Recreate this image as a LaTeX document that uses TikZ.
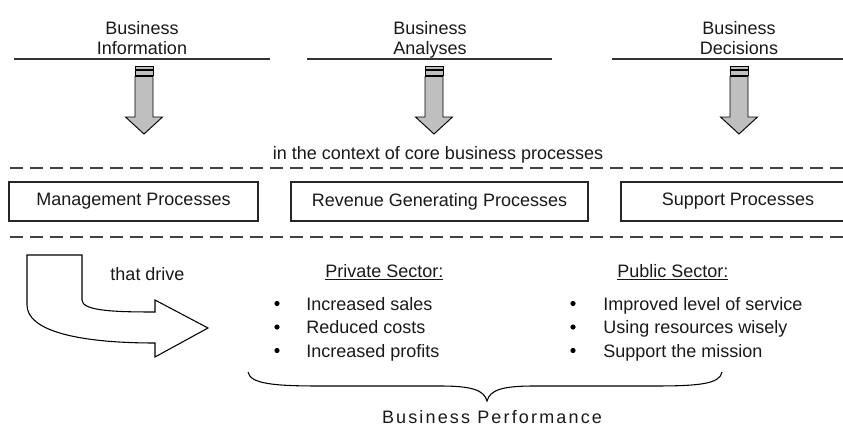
\documentclass[tikz,border=0pt]{standalone}
\usepackage{fontspec}
\setmainfont{Liberation Sans}
\begin{document}
\begin{tikzpicture}[x=0.75pt,y=-0.75pt,
  every node/.style={font=\fontsize{13.5}{15.75}\selectfont, inner sep=0pt, text=black!90},
  toplabel/.style={align=center, anchor=base},
  rule/.style={line width=1.5pt, draw=black!80},
  sepline/.style={line width=1.2pt, draw=black!75, dash pattern=on 9.5pt off 5.5pt},
  procbox/.style={draw=black!85, line width=1.1pt, minimum height=29.25pt},
  item/.style={anchor=base west},
  dot/.style={circle, fill=black, minimum size=3.9pt},
  fatarrow/.pic={
    \draw[line width=0.7pt, fill=black!25] (-9,0) rectangle (9,2.5);
    \draw[line width=0.7pt, fill=black!25] (-9,4) rectangle (9,8.5);
    \draw[line width=0.7pt, fill=black!25, line join=miter]
      (-9,10) -- (-9,50.5) -- (-18.5,50.5) -- (0,67.5) -- (18.5,50.5) -- (9,50.5) -- (9,10) -- cycle;
  }]
\useasboundingbox (0,0) rectangle (843,432);

% three information streams (base = baseline of the second line)
\node[toplabel] (info) at (142,55) {Business\\Information};
\node[toplabel] (anal) at (430,55) {Business\\Analyses};
\node[toplabel] (deci) at (739,55) {Business\\Decisions};
\draw[rule] (14,59) -- (270,59);
\draw[rule] (307,59) -- (552,59);
\draw[rule] (612,59) -- (843,59);
\pic at (144,66.5) {fatarrow};
\pic at (434,66.5) {fatarrow};
\pic at (739,66.5) {fatarrow};

\node[anchor=base] (ctx) at (438,159) {in the context of core business processes};

% band of core processes
\draw[sepline] (10,168) -- (843,168);
\node[procbox, minimum width=186.75pt] (mgmt) at (133.5,201.5) {Management Processes};
\node[procbox, minimum width=222.75pt] (rev) at (439.5,201.5) {Revenue Generating Processes};
\node[procbox, minimum width=175.5pt] (sup) at (738,201.5) {Support Processes};
\draw[sepline] (10,237) -- (843,237);

% bent arrow leading to the outcomes
\draw[line width=0.8pt, fill=white, line join=miter]
  (27,255) -- (82,255) -- (82,300)
  .. controls (82,311) and (115,312) .. (155,312)
  -- (155,300) -- (208,328) -- (155,357) -- (155,343)
  .. controls (75,343) and (27,330) .. (27,305) -- cycle;
\node (drive) at (147.5,274) {that drive};

% outcomes
\node[item] (priv) at (325,277) {\underline{Private Sector:}};
\node[item] (pub) at (617,277) {\underline{Public Sector:}};

\foreach \y/\a/\b in {310/Increased sales/Improved level of service,
                       333.5/Reduced costs/Using resources wisely,
                       357/Increased profits/Support the mission}{
  \node[dot] at (277,\y-6.5) {};
  \node[item] at (306,\y) {\a};
  \node[dot] at (573,\y-6.5) {};
  \node[item] at (603,\y) {\b};
}

% brace gathering the outcomes
\draw[line width=0.8pt]
  (248,372) .. controls (250,384) and (275,386) .. (320,386) -- (440,386)
  .. controls (472,386) and (484,390) .. (487,401)
  .. controls (490,390) and (502,386) .. (534,386) -- (654,386)
  .. controls (699,386) and (720,384) .. (722,372);
\node[anchor=base] (perf) at (492,423) {\addfontfeature{LetterSpace=12}Business Performance};
\end{tikzpicture}
\end{document}
